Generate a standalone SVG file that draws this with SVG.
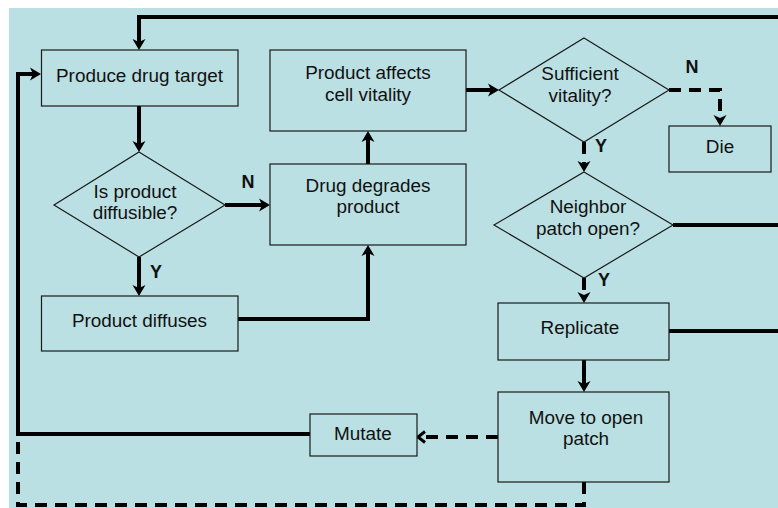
<svg xmlns="http://www.w3.org/2000/svg" width="778" height="508" viewBox="0 0 778 508">
  <style>
    .bg { fill: #bae0e3; }
    .box { fill: #bae0e3; stroke: #1a1a1a; stroke-width: 1.2; }
    .lbl { font-family: "Liberation Sans", Arial, sans-serif; font-size: 18.9px; fill: #111; text-anchor: middle; }
    .yn { font-family: "Liberation Sans", Arial, sans-serif; font-size: 18px; font-weight: bold; fill: #111; text-anchor: middle; }
    .wire { fill: none; stroke: #000; stroke-width: 4; }
    .dash { stroke-dasharray: 12 8; }
  </style>
  <defs>
    <marker id="arrow" viewBox="-12 -8 14 16" refX="-6" refY="0" markerWidth="14" markerHeight="16" markerUnits="userSpaceOnUse" orient="auto">
      <path d="M-11,-6.5 L0,0 L-11,6.5 L-8,0 z" fill="#000"/>
    </marker>
    <marker id="open" viewBox="-12 -8 14 16" refX="-2" refY="0" markerWidth="14" markerHeight="16" markerUnits="userSpaceOnUse" orient="auto">
      <path d="M-8,-5.5 L-1,0 L-8,5.5" fill="none" stroke="#000" stroke-width="3"/>
    </marker>
  </defs>

  <rect class="bg" x="9" y="8" width="769" height="500"/>

  <g id="connectors">
    <path class="wire" d="M778,17 H139 V44" marker-end="url(#arrow)"/>
    <path class="wire" d="M310,434 H18 V74 H35" marker-end="url(#arrow)"/>
    <path class="wire" d="M139,106 V146" marker-end="url(#arrow)"/>
    <path class="wire" d="M225,205 H264" marker-end="url(#arrow)"/>
    <path class="wire" d="M139,257 V290" marker-end="url(#arrow)"/>
    <path class="wire" d="M238,319 H368 V251" marker-end="url(#arrow)"/>
    <path class="wire" d="M368,164 V137" marker-end="url(#arrow)"/>
    <path class="wire" d="M466,90 H493" marker-end="url(#arrow)"/>
    <path class="wire dash" d="M669,90 H720 V120" marker-end="url(#arrow)"/>
    <path class="wire dash" d="M584,142 V166" marker-end="url(#arrow)"/>
    <path class="wire" d="M673,225 H778"/>
    <path class="wire dash" d="M584,278 V297" marker-end="url(#arrow)"/>
    <path class="wire" d="M669,331 H778"/>
    <path class="wire" d="M584,360 V386" marker-end="url(#arrow)"/>
    <path class="wire dash" d="M498,437 H419" marker-end="url(#open)"/>
    <path class="wire dash" d="M584,482 V505 H18 V436"/>
  </g>

  <g id="produce-target">
    <rect class="box" x="41.5" y="50" width="196.5" height="56"/>
    <text class="lbl" x="139.5" y="82">Produce drug target</text>
  </g>

  <g id="is-diffusible">
    <polygon class="box" points="139,152 225,205 139,257 54,205"/>
    <text class="lbl" x="135" y="198">Is product</text>
    <text class="lbl" x="135" y="219">diffusible?</text>
    <text class="yn" x="248" y="188">N</text>
    <text class="yn" x="156" y="278">Y</text>
  </g>

  <g id="product-diffuses">
    <rect class="box" x="41.5" y="296" width="196.5" height="55"/>
    <text class="lbl" x="139.5" y="327">Product diffuses</text>
  </g>

  <g id="drug-degrades">
    <rect class="box" x="270" y="164" width="196" height="81"/>
    <text class="lbl" x="368" y="192">Drug degrades</text>
    <text class="lbl" x="368" y="213">product</text>
  </g>

  <g id="affects-vitality">
    <rect class="box" x="270" y="50" width="196" height="81"/>
    <text class="lbl" x="368" y="79">Product affects</text>
    <text class="lbl" x="368" y="101">cell vitality</text>
  </g>

  <g id="sufficient-vitality">
    <polygon class="box" points="584,38 669,90 584,142 499,90"/>
    <text class="lbl" x="580" y="80">Sufficient</text>
    <text class="lbl" x="580" y="102">vitality?</text>
    <text class="yn" x="692" y="73">N</text>
    <text class="yn" x="601" y="152">Y</text>
  </g>

  <g id="die">
    <rect class="box" x="669" y="126" width="102" height="46"/>
    <text class="lbl" x="720" y="153">Die</text>
  </g>

  <g id="neighbor-open">
    <polygon class="box" points="584,172 673,225 584,278 494,225"/>
    <text class="lbl" x="588" y="213">Neighbor</text>
    <text class="lbl" x="588" y="235">patch open?</text>
    <text class="yn" x="604" y="286">Y</text>
  </g>

  <g id="replicate">
    <rect class="box" x="498" y="303" width="171" height="57"/>
    <text class="lbl" x="580" y="334">Replicate</text>
  </g>

  <g id="move-patch">
    <rect class="box" x="498" y="392" width="171" height="90"/>
    <text class="lbl" x="586" y="424">Move to open</text>
    <text class="lbl" x="586" y="445">patch</text>
  </g>

  <g id="mutate">
    <rect class="box" x="310" y="414" width="107" height="42"/>
    <text class="lbl" x="363" y="440">Mutate</text>
  </g>
</svg>
